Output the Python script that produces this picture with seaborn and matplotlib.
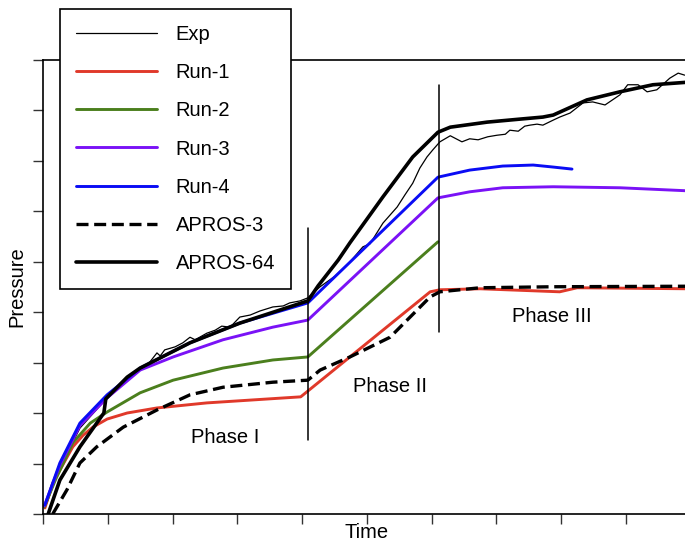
import matplotlib
matplotlib.use("Agg")
import matplotlib.pyplot as plt
import seaborn as sns
import pandas as pd

# ---------------- data (time / pressure in axis-tick units) ----------------
exp_t = [0.03, 0.26, 0.57, 0.99, 1.30, 1.50, 1.65, 1.76, 1.81, 1.88, 2.04, 2.16, 2.27, 2.35,
         2.53, 2.66, 2.76, 2.89, 3.04, 3.20, 3.35, 3.55, 3.71, 3.81, 3.97, 4.09, 4.28, 4.51,
         4.74, 4.94, 5.05, 5.25, 5.36, 5.47, 5.59, 5.71, 5.82, 5.93, 6.02, 6.13, 6.29, 6.47,
         6.59, 6.72, 6.87, 7.01, 7.14, 7.21, 7.34, 7.44, 7.52, 7.63, 7.72, 7.88, 7.98, 8.14,
         8.34, 8.49, 8.68, 8.91, 9.03, 9.19, 9.33, 9.48, 9.68, 9.81, 9.91]
exp_p = [0.12, 0.91, 1.70, 2.30, 2.65, 2.85, 3.01, 3.19, 3.13, 3.25, 3.31, 3.39, 3.50, 3.45,
         3.58, 3.64, 3.72, 3.70, 3.90, 3.94, 4.02, 4.10, 4.12, 4.18, 4.22, 4.28, 4.50, 4.71,
         4.99, 5.29, 5.35, 5.76, 5.92, 6.08, 6.32, 6.55, 6.85, 7.07, 7.21, 7.37, 7.49, 7.37,
         7.43, 7.41, 7.47, 7.50, 7.52, 7.60, 7.58, 7.68, 7.70, 7.72, 7.70, 7.80, 7.86, 7.94,
         8.14, 8.16, 8.10, 8.30, 8.50, 8.50, 8.36, 8.40, 8.63, 8.73, 8.69]

run1_t = [0.03, 0.15, 0.26, 0.46, 0.62, 0.77, 0.99, 1.30, 1.76, 2.53, 3.98, 5.98, 6.13, 6.75,
          7.98, 8.25, 9.95]
run1_p = [0.12, 0.61, 0.87, 1.33, 1.56, 1.72, 1.88, 2.00, 2.10, 2.20, 2.32, 4.40, 4.44, 4.46,
          4.40, 4.48, 4.46]

run2_t = [0.02, 0.19, 0.46, 0.73, 0.99, 1.50, 2.01, 2.78, 3.55, 4.09, 6.10]
run2_p = [0.14, 0.67, 1.41, 1.80, 2.02, 2.40, 2.65, 2.89, 3.05, 3.11, 5.39]

run3_t = [0.02, 0.26, 0.57, 0.99, 1.50, 2.01, 2.78, 3.55, 4.09, 6.10, 6.59, 7.10, 7.88,
          8.91, 9.95]
run3_p = [0.16, 0.97, 1.75, 2.30, 2.85, 3.11, 3.45, 3.70, 3.84, 6.26, 6.38, 6.46, 6.48,
          6.46, 6.40]

run4_t = [0.03, 0.26, 0.57, 0.99, 1.50, 2.27, 3.04, 4.09, 6.10, 6.59, 7.10, 7.57, 7.88, 8.17]
run4_p = [0.18, 1.01, 1.80, 2.36, 2.89, 3.39, 3.78, 4.18, 6.67, 6.81, 6.89, 6.91, 6.87, 6.83]

apros3_t = [0.15, 0.37, 0.57, 0.83, 1.24, 1.76, 2.27, 2.78, 3.55, 4.09, 4.28, 4.74, 5.36,
            5.98, 6.13, 6.75, 7.88, 9.95]
apros3_p = [0.00, 0.48, 1.01, 1.33, 1.72, 2.06, 2.36, 2.51, 2.61, 2.65, 2.85, 3.11, 3.50,
            4.30, 4.40, 4.48, 4.50, 4.51]

apros64_t = [0.08, 0.26, 0.57, 0.83, 0.94, 0.97, 1.30, 1.50, 2.27, 3.04, 4.09, 4.25, 4.56,
             4.74, 5.25, 5.71, 6.10, 6.29, 6.86, 7.37, 7.72, 7.88, 8.40, 8.91, 9.42, 9.95]
apros64_p = [0.00, 0.67, 1.33, 1.80, 2.00, 2.28, 2.71, 2.89, 3.39, 3.78, 4.22, 4.52, 5.03,
             5.37, 6.28, 7.07, 7.56, 7.66, 7.76, 7.82, 7.86, 7.90, 8.20, 8.36, 8.50, 8.55]

phase_x = [4.10, 6.12]
phase_ylo = [1.47, 3.60]
phase_yhi = [5.66, 8.50]
phase_labels = ["Phase I", "Phase II", "Phase III"]
phase_label_x = [2.81, 5.36, 7.86]
phase_label_y = [1.52, 2.53, 3.92]

x_ticks = list(range(0, 11))
y_ticks = list(range(0, 10))

# ---------------- styling ----------------
sns.set_style("ticks")
plt.rcParams["font.family"] = ["Liberation Sans", "DejaVu Sans"]
plt.rcParams["text.color"] = "black"
plt.rcParams["axes.labelcolor"] = "black"

W, H = 685, 544
fig = plt.figure(figsize=(W / 100, H / 100), dpi=100)
ax = fig.add_axes([43 / W, (H - 514) / H, 647.5 / W, 454.5 / H])

series = [
    ("Exp", exp_t, exp_p, "black", 0.9, "-"),
    ("Run-1", run1_t, run1_p, "#e0392a", 2.1, "-"),
    ("Run-2", run2_t, run2_p, "#4b7f1d", 2.1, "-"),
    ("Run-3", run3_t, run3_p, "#7a12f6", 2.1, "-"),
    ("Run-4", run4_t, run4_p, "#0a0cf4", 2.1, "-"),
    ("APROS-3", apros3_t, apros3_p, "black", 2.4, "--"),
    ("APROS-64", apros64_t, apros64_p, "black", 2.6, "-"),
]

for name, t, p, col, lw, ls in series:
    df = pd.DataFrame({"t": t, "p": p})
    sns.lineplot(data=df, x="t", y="p", ax=ax, color=col, lw=lw, linestyle=ls,
                 sort=False, estimator=None, legend=False)
    if ls == "--":
        ax.lines[-1].set_dashes((3.6, 1.7))
    ax.lines[-1].set_label(name)

for xv, lo, hi in zip(phase_x, phase_ylo, phase_yhi):
    ax.plot([xv, xv], [lo, hi], color="black", lw=1.1)

for lab, lx, ly in zip(phase_labels, phase_label_x, phase_label_y):
    ax.text(lx, ly, lab, ha="center", va="center", fontsize=14.5, color="black")

ax.set_xlim(0, 10)
ax.set_ylim(0, 9)
ax.set_xticks(x_ticks)
ax.set_yticks(y_ticks)
ax.set_xticklabels([])
ax.set_yticklabels([])
ax.tick_params(direction="out", length=7, width=1.0, color="#333333")
for s in ["left", "top", "bottom"]:
    ax.spines[s].set_visible(True)
    ax.spines[s].set_color("black")
    ax.spines[s].set_linewidth(1.2)
ax.spines["right"].set_visible(False)

ax.set_xlabel("Time", fontsize=14.5, color="black")
ax.set_ylabel("Pressure", fontsize=14.5, color="black")
ax.xaxis.set_label_coords((367 - 43) / 647.5, -(533 - 514) / 454.5)
ax.yaxis.set_label_coords((17 - 43) / 647.5, (514 - 287) / 454.5)
ax.xaxis.label.set_va("center")
ax.yaxis.label.set_va("center")

handles = ax.lines[:7]
leg = ax.legend(handles=handles, labels=[s[0] for s in series],
                loc="upper left", bbox_to_anchor=(60 / W, 1 - 9 / H),
                bbox_transform=fig.transFigure, borderaxespad=0,
                frameon=True, fancybox=False, framealpha=1, edgecolor="black",
                fontsize=14.5, handlelength=4.0, handletextpad=0.95,
                labelspacing=0.95, borderpad=0.8)
leg.get_frame().set_linewidth(1.2)
for txt in leg.get_texts():
    txt.set_color("black")
leg.set_zorder(5)

fig.savefig("out.png", dpi=100)
